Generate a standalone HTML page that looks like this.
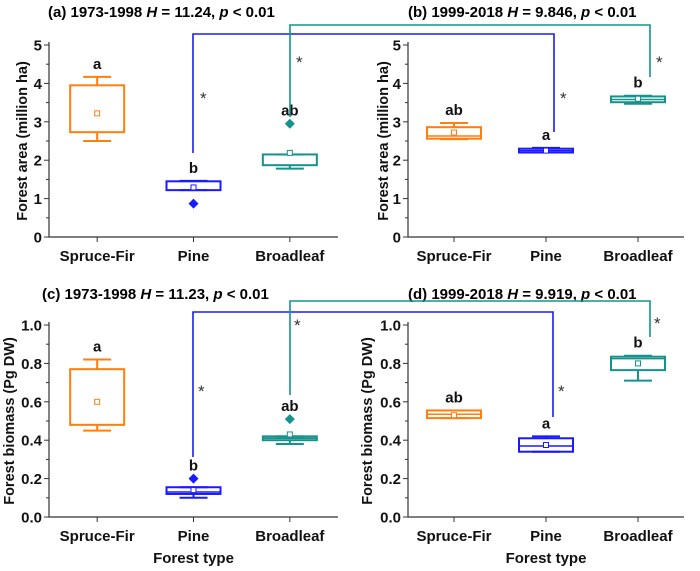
<!DOCTYPE html>
<html><head><meta charset="utf-8"><style>
body{margin:0;background:#fff}
svg text{font-family:"Liberation Sans",Arial,sans-serif;font-weight:bold}
</style></head><body>
<svg id="c" width="700" height="566" viewBox="0 0 700 566" xmlns="http://www.w3.org/2000/svg"></svg>
<script>
const categories=["Spruce-Fir","Pine","Broadleaf"];
const colors=["#ff7f0e","#1a1aff","#16928c"];
// per panel: [whiskLo, boxLo, median, boxHi, whiskHi, mean, outlier]
const panelA=[[2.5,2.73,null,3.95,4.17,3.22,null],[1.22,1.22,null,1.45,1.46,1.29,0.87],[1.78,1.87,null,2.15,2.15,2.19,2.95]];
const panelB=[[2.55,2.56,2.63,2.86,2.97,2.72,null],[2.2,2.2,2.25,2.3,2.32,2.25,null],[3.47,3.51,3.58,3.66,3.68,3.6,null]];
const panelC=[[0.45,0.48,null,0.77,0.82,0.60,null],[0.10,0.12,0.13,0.155,0.155,0.14,0.20],[0.38,0.40,0.41,0.42,0.42,0.43,0.51]];
const panelD=[[0.515,0.515,0.535,0.555,0.555,0.53,null],[0.34,0.34,0.37,0.41,0.42,0.375,null],[0.71,0.765,0.825,0.835,0.84,0.80,null]];
const lettersA=["a","b","ab"],lettersB=["ab","a","b"],lettersC=["a","b","ab"],lettersD=["ab","a","b"];
const ticksArea=["0","1","2","3","4","5"],ticksBio=["0.0","0.2","0.4","0.6","0.8","1.0"];
const svg=document.getElementById('c');
const NS='http://www.w3.org/2000/svg';
function el(tag,attrs,txt){const e=document.createElementNS(NS,tag);for(const k in attrs)e.setAttribute(k,attrs[k]);if(txt!=null)e.textContent=txt;svg.appendChild(e);return e;}
const panels=[
 {d:panelA,L:lettersA,t:ticksArea,max:5,x0:49,x1:338,y0:237,y1:45,title:"(a) 1973-1998  ",H:"11.24",tx:48,ty:17,ylab:"Forest area (million ha)",ylx:27,xt:false,n:"a"},
 {d:panelB,L:lettersB,t:ticksArea,max:5,x0:408,x1:684,y0:237,y1:45,title:"(b) 1999-2018   ",H:"9.846",tx:408,ty:17,ylab:"Forest area (million ha)",ylx:388,xt:false,n:"b"},
 {d:panelC,L:lettersC,t:ticksBio,max:1,x0:49,x1:338,y0:517,y1:325,title:"(c) 1973-1998  ",H:"11.23",tx:42,ty:299,ylab:"Forest biomass (Pg DW)",ylx:14,xt:true,n:"c"},
 {d:panelD,L:lettersD,t:ticksBio,max:1,x0:408,x1:684,y0:517,y1:325,title:"(d) 1999-2018 ",H:"9.919",tx:408,ty:299,ylab:"Forest biomass (Pg DW)",ylx:372,xt:true,n:"d"}];
panels.forEach(p=>{
 const sy=v=>p.y0-(v/p.max)*(p.y0-p.y1);
 const step=(p.x1-p.x0)/3;
 const sx=i=>p.x0+step*(i+0.5);
 let t=el('text',{x:p.tx,y:p.ty,'font-size':15,fill:'#000'});
 
 t.innerHTML=p.title+'<tspan font-style="italic">H</tspan> = '+p.H+', <tspan font-style="italic">p</tspan> &lt; 0.01';
 let ax=el('path',{d:`M${p.x0} ${p.y1-3}V${p.y0}H${p.x1}`,stroke:'#333',fill:'none','stroke-width':1.2});
 
 p.t.forEach((lab,i)=>{const v=i*p.max/5;const y=sy(v);
  el('line',{x1:p.x0-5,x2:p.x0,y1:y,y2:y,stroke:'#333'});
  if(i<5){const ym=sy(v+p.max/10);el('line',{x1:p.x0-3,x2:p.x0,y1:ym,y2:ym,stroke:'#333'});}
  const tl=el('text',{x:p.x0-7,y:y+5.5,'text-anchor':'end','font-size':15,fill:'#111'},lab);
  });
 const yl=el('text',{x:0,y:0,transform:`translate(${p.ylx},${(p.y0+p.y1)/2}) rotate(-90)`,'text-anchor':'middle','font-size':14.5,fill:'#111'},p.ylab);
 
 categories.forEach((c,i)=>{const x=sx(i);
  el('line',{x1:x,x2:x,y1:p.y0,y2:p.y0+5,stroke:'#333'});
  const xl=el('text',{x:x,y:p.y0+24,'text-anchor':'middle','font-size':15,fill:'#111'},c);
  
  const b=p.d[i],col=colors[i];
  const g=document.createElementNS(NS,'g');svg.appendChild(g);
  
  const add=(tag,a)=>{const e=document.createElementNS(NS,tag);for(const k in a)e.setAttribute(k,a[k]);g.appendChild(e);return e;};
  add('line',{x1:x,x2:x,y1:sy(b[0]),y2:sy(b[1]),stroke:col,'stroke-width':2});
  add('line',{x1:x,x2:x,y1:sy(b[3]),y2:sy(b[4]),stroke:col,'stroke-width':2});
  add('line',{x1:x-14,x2:x+14,y1:sy(b[0]),y2:sy(b[0]),stroke:col,'stroke-width':2});
  add('line',{x1:x-14,x2:x+14,y1:sy(b[4]),y2:sy(b[4]),stroke:col,'stroke-width':2});
  add('rect',{x:x-27,y:sy(b[3]),width:54,height:Math.max(1,sy(b[1])-sy(b[3])),fill:'none',stroke:col,'stroke-width':2});
  if(b[2]!=null)add('line',{x1:x-27,x2:x+27,y1:sy(b[2]),y2:sy(b[2]),stroke:col,'stroke-width':1.5});
  add('rect',{x:x-2.5,y:sy(b[5])-2.5,width:5,height:5,fill:'#fff',stroke:col,'stroke-width':1});
  let top=sy(b[4]);
  if(b[6]!=null){const oy=sy(b[6]);add('path',{d:`M${x} ${oy-5}L${x+5} ${oy}L${x} ${oy+5}L${x-5} ${oy}Z`,fill:col});top=Math.min(top,oy);}
  const lt=el('text',{x:x,y:top-8,'text-anchor':'middle','font-size':15,fill:'#111'},p.L[i]);
  
 });
 if(p.xt){const ft=el('text',{x:sx(1),y:p.y0+46,'text-anchor':'middle','font-size':15,fill:'#111'},'Forest type');
  }
});
// comparison brackets
const brackets=[
 {c:colors[1],d:"M193 153V34H554V132",s:[[200,104],[560,104]],n:"pine-area-bracket"},
 {c:colors[2],d:"M290 117V25H650V77",s:[[296,68],[656,68]],n:"broadleaf-area-bracket"},
 {c:colors[1],d:"M193 457V312H553V417",s:[[198,397],[558,397]],n:"pine-biomass-bracket"},
 {c:colors[2],d:"M290 395V301H650V337",s:[[294,331],[654,329]],n:"broadleaf-biomass-bracket"}];
brackets.forEach(b=>{const p=el('path',{d:b.d,stroke:b.c,fill:'none','stroke-width':1.6});
 
 b.s.forEach(s=>{const a=el('text',{x:s[0],y:s[1],'font-size':17,fill:'#333',style:'font-weight:normal'},'*');
  });});
</script>
</body></html>
